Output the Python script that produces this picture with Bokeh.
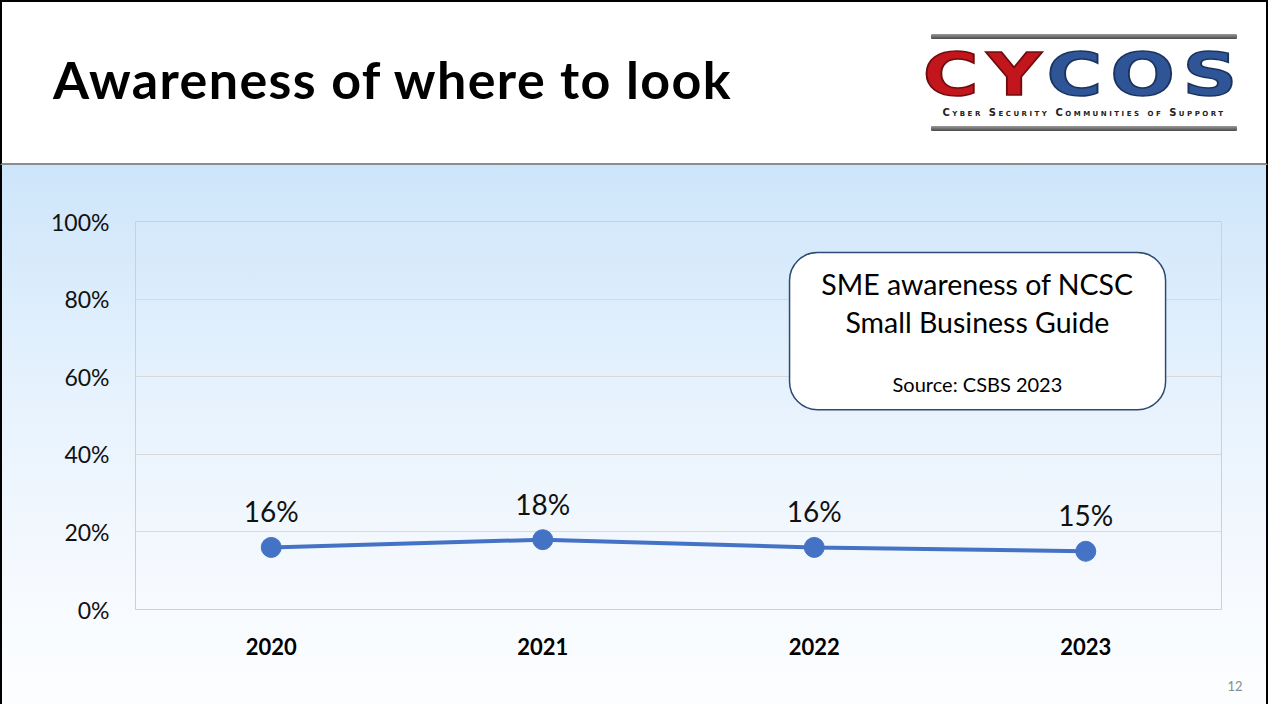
from bokeh.plotting import figure
from bokeh.models import (ColumnDataSource, FactorRange, NumeralTickFormatter, LabelSet,
                          Label, BoxAnnotation, Div, FixedTicker, Range1d)
from bokeh.layouts import column
from bokeh.core.properties import value
from bokeh.embed import file_html
from bokeh.resources import INLINE

# ---- data ----
years = ["2020", "2021", "2022", "2023"]
awareness = [0.16, 0.18, 0.16, 0.15]
y_ticks = [0.0, 0.2, 0.4, 0.6, 0.8, 1.0]
slide_title = "Awareness of where to look"
box_title_1 = "SME awareness of NCSC"
box_title_2 = "Small Business Guide"
box_source = "Source: CSBS 2023"
logo_main_red = "CY"
logo_main_blue = "COS"
logo_sub = "Cyber Security Communities of Support"
page_number = "12"

FONT = "Lato"
W = 1268
HEAD_H = 165
FOOT_H = 30
FIG_H = 704 - HEAD_H - FOOT_H

labels = [f"{round(v * 100)}%" for v in awareness]
src = ColumnDataSource(dict(year=years, val=awareness, lab=labels))

# ---- header (title + logo) ----
bar = ("position:absolute;left:929px;width:306px;height:5px;"
       "background:linear-gradient(#9a9a9a,#4a4a4a);border-radius:1px;")
header_html = f"""
<div style="position:relative;width:{W}px;height:{HEAD_H}px;box-sizing:border-box;
  border-top:2px solid #000;border-left:2px solid #000;border-right:2px solid #000;
  border-bottom:2px solid #8c8c8c;background:#fff;overflow:hidden;">
  <div style="position:absolute;left:51px;top:51px;font-family:'{FONT}';font-weight:bold;
    font-size:52px;letter-spacing:1.4px;line-height:1;color:#000;white-space:nowrap;">{slide_title}</div>
  <div style="{bar}top:32px;"></div>
  <div style="position:absolute;left:929px;top:43px;width:306px;text-align:center;
    font-family:'DejaVu Sans';font-weight:900;font-size:59px;line-height:1;white-space:nowrap;
    letter-spacing:6px;transform:scaleX(1.29);transform-origin:center;">
    <span style="color:#c3151c;-webkit-text-stroke:1.5px #6e0b0f;">{logo_main_red}</span><span
     style="color:#2f5597;-webkit-text-stroke:1.5px #1a335e;">{logo_main_blue}</span>
  </div>
  <div style="position:absolute;left:929px;top:106px;width:306px;text-align:center;
    font-family:'DejaVu Sans';font-weight:bold;font-size:10px;line-height:1;
    font-variant:small-caps;letter-spacing:2.5px;color:#222;white-space:nowrap;">{logo_sub}</div>
  <div style="{bar}top:124px;"></div>
</div>
"""
header = Div(text=header_html, width=W, height=HEAD_H, margin=(0, 0, 0, 0))

footer_html = f"""
<div style="position:relative;width:{W}px;height:{FOOT_H}px;box-sizing:border-box;
  border-left:2px solid #000;border-right:2px solid #000;background:#fbfdff;">
  <div style="position:absolute;left:1218px;top:6px;width:30px;text-align:center;
    font-family:'{FONT}';font-size:13px;line-height:1;color:#8a8a8a;">{page_number}</div>
</div>
"""
footer = Div(text=footer_html, width=W, height=FOOT_H, margin=(0, 0, 0, 0))

# ---- chart ----
p = figure(width=W, height=FIG_H, x_range=FactorRange(*years, range_padding=0),
           y_range=Range1d(0, 1), output_backend="svg", toolbar_location=None,
           min_border_left=135, min_border_right=47, min_border_top=56,
           min_border_bottom=FIG_H - 56 - 388, margin=(0, 0, 0, 0))
p.border_fill_color = None
p.background_fill_color = None
p.outline_line_color = "#d0d0d0"
p.outline_line_width = 1
p.styles = {
    "background": "linear-gradient(to bottom, #cde5fa 0%, #e4f1fd 40%, #f5f9fe 80%, #fbfdff 100%)",
    "box-shadow": "inset 2px 0 0 #000, inset -2px 0 0 #000",
}

p.yaxis.ticker = FixedTicker(ticks=y_ticks)
p.yaxis.formatter = NumeralTickFormatter(format="0%")
p.yaxis.major_label_text_font = FONT
p.yaxis.major_label_text_font_size = "23px"
p.yaxis.major_label_text_color = "#111111"
p.yaxis.major_label_standoff = 26
p.yaxis.major_tick_out = 0
p.yaxis.major_tick_in = 0
p.yaxis.axis_line_color = None
p.yaxis.major_tick_line_color = None
p.yaxis.minor_tick_line_color = None

p.xaxis.major_label_text_font = FONT
p.xaxis.major_label_text_font_style = "bold"
p.xaxis.major_label_text_font_size = "22px"
p.xaxis.major_label_text_color = "#000"
p.xaxis.major_label_standoff = 28
p.xaxis.major_tick_out = 0
p.xaxis.major_tick_in = 0
p.xaxis.axis_line_color = None
p.xaxis.major_tick_line_color = None
p.xaxis.minor_tick_line_color = None

p.xgrid.grid_line_color = None
p.ygrid.grid_line_color = "#d9d9d9"
p.ygrid.grid_line_width = 1

p.line(x="year", y="val", source=src, line_color="#4472c4", line_width=4)
p.scatter(x="year", y="val", source=src, size=20, fill_color="#4472c4", line_color="#4472c4")

p.add_layout(LabelSet(x="year", y="val", text="lab", source=src, y_offset=36,
                      text_align="center", text_baseline="middle",
                      text_font=value(FONT), text_font_size="28px", text_color="#111111"))

p.add_layout(BoxAnnotation(left=2.409, right=3.794, bottom=0.515, top=0.92,
                           fill_color="white", fill_alpha=1.0, line_color="#2e4a72",
                           line_width=1.5, line_alpha=1.0, border_radius=28))
p.add_layout(Label(x=3.101, y=0.838, text=box_title_1, text_align="center",
                   text_baseline="middle", text_font=FONT, text_font_size="28.5px",
                   text_color="#000"))
p.add_layout(Label(x=3.101, y=0.740, text=box_title_2, text_align="center",
                   text_baseline="middle", text_font=FONT, text_font_size="28.5px",
                   text_color="#000"))
p.add_layout(Label(x=3.101, y=0.582, text=box_source, text_align="center",
                   text_baseline="middle", text_font=FONT, text_font_size="20px",
                   text_color="#000"))

layout = column(header, p, footer, spacing=0, margin=(0, 0, 0, 0))
open("out.html", "w").write(file_html(layout, INLINE))
